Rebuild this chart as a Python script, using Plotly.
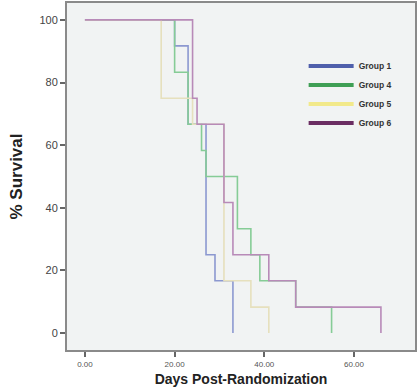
import plotly.graph_objects as go

groups = ["Group 1", "Group 4", "Group 5", "Group 6"]
g1_days = [0, 20, 23, 27, 29, 33]
g1_surv = [100, 91.7, 66.7, 25, 16.7, 0]
g4_days = [0, 20, 23, 26, 27, 34, 37, 39, 47, 55]
g4_surv = [100, 83.3, 66.7, 58.3, 50, 33.3, 25, 16.7, 8.3, 0]
g5_days = [0, 17, 24, 31, 37, 41]
g5_surv = [100, 75, 66.7, 16.7, 8.3, 0]
g6_days = [0, 24, 25, 31, 33, 41, 47, 66]
g6_surv = [100, 75, 66.7, 41.7, 25, 16.7, 8.3, 0]

x_ticks = [0, 20, 40, 60]
y_ticks = [0, 20, 40, 60, 80, 100]

line_colors = ["#8c98d0", "#86cc96", "#e6e0bd", "#b88ab8"]
legend_colors = ["#4f5fab", "#3f9f55", "#f2e98a", "#6b2d62"]
series = [(g1_days, g1_surv), (g4_days, g4_surv), (g5_days, g5_surv), (g6_days, g6_surv)]

fig = go.Figure()
for (d, s), c in zip(series, line_colors):
    fig.add_trace(go.Scatter(x=d, y=s, mode="lines", line=dict(shape="hv", color=c, width=1.6),
                             showlegend=False, hoverinfo="skip"))
for name, c in zip(groups, legend_colors):
    fig.add_trace(go.Scatter(x=[None], y=[None], mode="lines", name=f"<b>{name}</b>",
                             line=dict(color=c, width=4)))

fig.update_layout(
    width=420, height=391,
    margin=dict(l=67, r=5, t=3, b=41),
    paper_bgcolor="white",
    plot_bgcolor="#f1f3f3",
    font=dict(family="Liberation Sans, Arial, sans-serif", color="#444"),
    legend=dict(x=0.68, y=0.86, xanchor="left", yanchor="top",
                bgcolor="rgba(0,0,0,0)", itemwidth=45,
                font=dict(size=8.5, color="#333", family="Liberation Sans, Arial, sans-serif"),
                tracegroupgap=0),
    xaxis=dict(range=[-4, 73.6], tickvals=x_ticks, ticktext=[f"{v:.2f}" for v in x_ticks],
               automargin=False,
               showgrid=False, zeroline=False, showline=True, linecolor="#8a8a8a", linewidth=2,
               mirror=True, ticks="outside", ticklen=5, tickwidth=2, tickcolor="#666",
               tickfont=dict(size=8, color="#555"),
               title=dict(text="<b>Days Post-Randomization</b>", font=dict(size=14, color="#222"), standoff=7)),
    yaxis=dict(range=[-5.4, 105.4], tickvals=y_ticks,
               automargin=False,
               showgrid=False, zeroline=False, showline=True, linecolor="#8a8a8a", linewidth=2,
               mirror=True, ticks="outside", ticklen=5, tickwidth=1.5, tickcolor="#666",
               tickfont=dict(size=11, color="#444"),
               title=dict(text="<b>% Survival</b>", font=dict(size=17, color="#222"), standoff=12)),
)

fig.write_html("out.html", config={"displayModeBar": False},
               post_script="document.body.style.margin='0';document.body.style.overflow='hidden';")
